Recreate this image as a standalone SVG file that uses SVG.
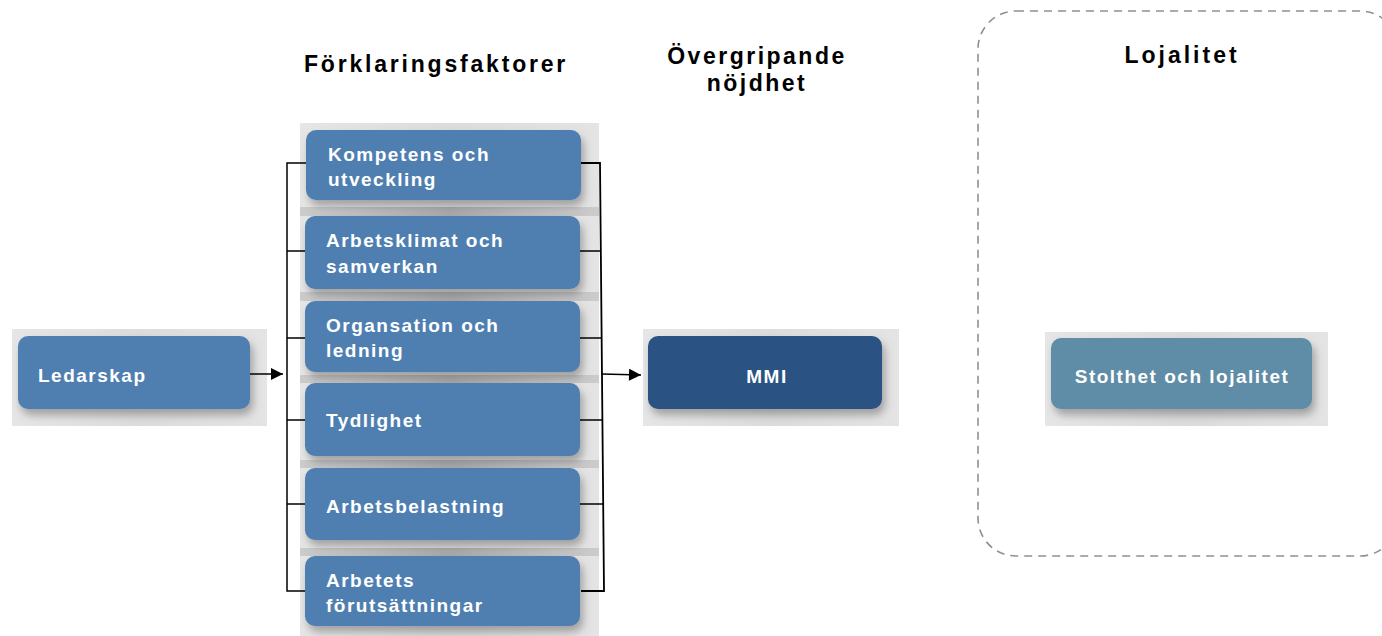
<svg xmlns="http://www.w3.org/2000/svg" width="1382" height="636" viewBox="0 0 1382 636">
<style>
.title{font-family:"Liberation Sans",Arial,sans-serif;font-weight:bold;font-size:23px;fill:#000;}
.lbl{font-family:"Liberation Sans",Arial,sans-serif;font-weight:bold;font-size:19px;fill:#fff;letter-spacing:1.5px;}
.box{fill:#4F7FB1;filter:url(#sh);}
.bd{fill:url(#bdg);}
.band{fill:url(#bandg);}
.ln{stroke:#000;stroke-width:1.5;fill:none;}
</style>
<defs>
<filter id="sh" x="-10%" y="-20%" width="125%" height="150%">
<feDropShadow dx="3" dy="6" stdDeviation="4" flood-color="#6a6a6a" flood-opacity="0.55"/>
</filter>
<linearGradient id="bdg" x1="0" y1="0" x2="1" y2="0">
<stop offset="0" stop-color="#e6e6e6"/>
<stop offset="0.5" stop-color="#dcdcdc"/>
<stop offset="1" stop-color="#e4e4e4"/>
</linearGradient>
<linearGradient id="bandg" x1="0" y1="0" x2="1" y2="0">
<stop offset="0" stop-color="#cccccc"/>
<stop offset="0.5" stop-color="#a8a8a8"/>
<stop offset="1" stop-color="#cccccc"/>
</linearGradient>
<marker id="arr" viewBox="0 0 12 12" refX="12" refY="6" markerWidth="13" markerHeight="12" markerUnits="userSpaceOnUse" orient="auto">
<path d="M0,0 L12,6 L0,12 Z" fill="#000"/>
</marker>
</defs>

<g id="titles">
<text class="title" x="304" y="72" style="letter-spacing:2.8px">Förklaringsfaktorer</text>
<text class="title" x="757" y="64" text-anchor="middle" style="letter-spacing:2.5px">Övergripande</text>
<text class="title" x="757" y="91" text-anchor="middle" style="letter-spacing:2.5px">nöjdhet</text>
</g>

<g id="lojalitet-group">
<rect x="978" y="11" width="420" height="545" rx="38" ry="38" fill="none" stroke="#909090" stroke-width="1.6" stroke-dasharray="8 6"/>
<text class="title" x="1182" y="63" text-anchor="middle" style="letter-spacing:3px">Lojalitet</text>
</g>

<g id="ledarskap">
<rect class="bd" x="12" y="329" width="255" height="97"/>
<rect class="box" x="18" y="336" width="232" height="73" rx="10"/>
<text class="lbl" x="38" y="382">Ledarskap</text>
</g>

<g id="faktorer-bg">
<rect class="bd" x="300" y="123" width="299" height="513"/>
<rect class="band" x="300" y="207" width="299" height="9"/>
<rect class="band" x="300" y="292" width="299" height="9"/>
<rect class="band" x="300" y="375" width="299" height="8"/>
<rect class="band" x="300" y="460" width="299" height="8"/>
<rect class="band" x="300" y="548" width="299" height="8"/>
</g>

<g id="kompetens">
<rect class="box" x="306" y="130" width="275" height="70" rx="10"/>
<text class="lbl" x="328" y="161">Kompetens och</text>
<text class="lbl" x="328" y="186">utveckling</text>
</g>
<g id="arbetsklimat">
<rect class="box" x="305" y="216" width="275" height="73" rx="10"/>
<text class="lbl" x="326" y="247">Arbetsklimat och</text>
<text class="lbl" x="326" y="273">samverkan</text>
</g>
<g id="organsation">
<rect class="box" x="305" y="301" width="275" height="71" rx="10"/>
<text class="lbl" x="326" y="332">Organsation och</text>
<text class="lbl" x="326" y="357">ledning</text>
</g>
<g id="tydlighet">
<rect class="box" x="305" y="383" width="275" height="73" rx="10"/>
<text class="lbl" x="326" y="427">Tydlighet</text>
</g>
<g id="arbetsbelastning">
<rect class="box" x="305" y="468" width="275" height="72" rx="10"/>
<text class="lbl" x="326" y="513">Arbetsbelastning</text>
</g>
<g id="forutsattningar">
<rect class="box" x="305" y="556" width="275" height="70" rx="10"/>
<text class="lbl" x="326" y="587">Arbetets</text>
<text class="lbl" x="326" y="612">förutsättningar</text>
</g>

<g id="mmi">
<rect class="bd" x="643" y="329" width="256" height="97"/>
<rect class="box" x="648" y="336" width="234" height="73" rx="10" style="fill:#2B5283"/>
<text class="lbl" x="767" y="383" text-anchor="middle">MMI</text>
</g>

<g id="stolthet">
<rect class="bd" x="1045" y="332" width="283" height="94"/>
<rect class="box" x="1051" y="338" width="261" height="71" rx="10" style="fill:#5E8CA6"/>
<text class="lbl" x="1182" y="383" text-anchor="middle">Stolthet och lojalitet</text>
</g>

<g id="connectors">
<line class="ln" x1="250" y1="374" x2="283" y2="374" marker-end="url(#arr)"/>
<path class="ln" d="M306,163 H287 V591 H305"/>
<line class="ln" x1="287" y1="251" x2="305" y2="251"/>
<line class="ln" x1="287" y1="338" x2="305" y2="338"/>
<line class="ln" x1="287" y1="420" x2="305" y2="420"/>
<line class="ln" x1="287" y1="504" x2="305" y2="504"/>
<path class="ln" d="M581,163 H600 L604,591 H581" style="stroke-width:1.8"/>
<line class="ln" x1="580" y1="251" x2="601" y2="251"/>
<line class="ln" x1="580" y1="338" x2="602" y2="338"/>
<line class="ln" x1="580" y1="420" x2="602" y2="420"/>
<line class="ln" x1="580" y1="504" x2="603" y2="504"/>
<line class="ln" x1="602" y1="374" x2="641" y2="375" marker-end="url(#arr)"/>
</g>
</svg>
